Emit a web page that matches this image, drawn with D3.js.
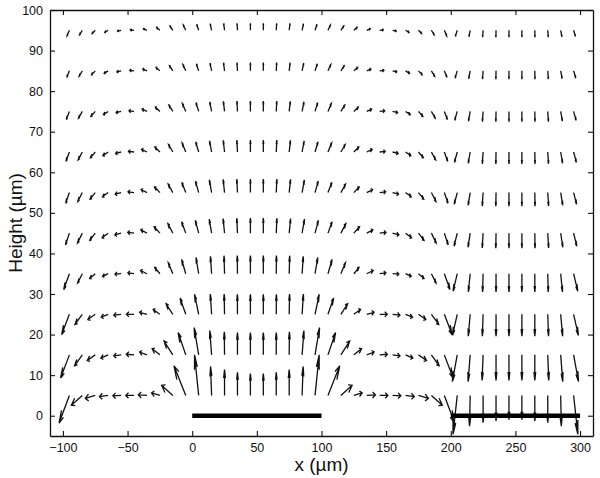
<!DOCTYPE html>
<html><head><meta charset="utf-8">
<script src="https://cdn.jsdelivr.net/npm/d3@7"></script>
<style>body{margin:0;background:#fff}svg{display:block}text{font-family:"Liberation Sans",Arial,Helvetica,sans-serif;fill:#111}</style>
</head><body>
<svg id="chart" width="600" height="478"></svg>
<script>
// grid positions (µm)
const xCols = [-95,-85,-75,-65,-55,-45,-35,-25,-15,-5,5,15,25,35,45,55,65,75,85,95,105,115,125,135,145,155,165,175,185,195,205,215,225,235,245,255,265,275,285,295];
const yRows = [95,85,75,65,55,45,35,25,15,5];
// drawn vector components (µm) per row
const u95 = [-1.76,-2.15,-2.49,-2.71,-2.83,-2.85,-2.78,-2.58,-2.21,-1.87,-1.51,-1.07,-0.64,-0.30,0, 0,0.30,0.64,1.07,1.51,1.87,2.21,2.58,2.78,2.85,2.83,2.71,2.49,2.15,1.76, -1.43,-0.97,-0.40,-0.10,0, 0,0.10,0.40,0.97,1.43];
const v95 = [-1.36,-1.13,-0.84,-0.53,-0.21,0.09,0.39,0.73,1.09,1.31,1.47,1.60,1.69,1.72,1.73, 1.73,1.72,1.69,1.60,1.47,1.31,1.09,0.73,0.39,0.09,-0.21,-0.53,-0.84,-1.13,-1.36, -1.50,-1.63,-1.71,-1.73,-1.73, -1.73,-1.73,-1.71,-1.63,-1.50];
const u85 = [-2.03,-2.49,-2.89,-3.14,-3.28,-3.30,-3.21,-2.99,-2.56,-2.16,-1.75,-1.24,-0.74,-0.35,0, 0,0.35,0.74,1.24,1.75,2.16,2.56,2.99,3.21,3.30,3.28,3.14,2.89,2.49,2.03, -1.65,-1.13,-0.46,-0.12,0, 0,0.12,0.46,1.13,1.65];
const v85 = [-1.62,-1.34,-0.99,-0.63,-0.25,0.11,0.46,0.87,1.29,1.55,1.74,1.90,2.00,2.04,2.05, 2.05,2.04,2.00,1.90,1.74,1.55,1.29,0.87,0.46,0.11,-0.25,-0.63,-0.99,-1.34,-1.62, -1.78,-1.93,-2.03,-2.05,-2.05, -2.05,-2.05,-2.03,-1.93,-1.78];
const u75 = [-2.40,-2.94,-3.41,-3.71,-3.87,-3.90,-3.80,-3.53,-3.03,-2.56,-2.07,-1.46,-0.88,-0.41,0, 0,0.41,0.88,1.46,2.07,2.56,3.03,3.53,3.80,3.90,3.87,3.71,3.41,2.94,2.40, -1.95,-1.33,-0.54,-0.14,0, 0,0.14,0.54,1.33,1.95];
const v75 = [-2.01,-1.67,-1.24,-0.79,-0.31,0.13,0.57,1.08,1.60,1.93,2.16,2.36,2.48,2.54,2.55, 2.55,2.54,2.48,2.36,2.16,1.93,1.60,1.08,0.57,0.13,-0.31,-0.79,-1.24,-1.67,-2.01, -2.21,-2.40,-2.52,-2.55,-2.55, -2.55,-2.55,-2.52,-2.40,-2.21];
const u65 = [-2.65,-3.25,-3.76,-4.09,-4.27,-4.30,-4.19,-3.90,-3.34,-2.82,-2.28,-1.61,-0.97,-0.45,0, 0,0.45,0.97,1.61,2.28,2.82,3.34,3.90,4.19,4.30,4.27,4.09,3.76,3.25,2.65, -2.15,-1.47,-0.60,-0.15,0, 0,0.15,0.60,1.47,2.15];
const v65 = [-2.32,-1.94,-1.43,-0.91,-0.36,0.15,0.66,1.25,1.86,2.23,2.50,2.73,2.87,2.94,2.95, 2.95,2.94,2.87,2.73,2.50,2.23,1.86,1.25,0.66,0.15,-0.36,-0.91,-1.43,-1.94,-2.32, -2.55,-2.77,-2.92,-2.95,-2.95, -2.95,-2.95,-2.92,-2.77,-2.55];
const u55 = [-2.86,-3.51,-4.07,-4.42,-4.62,-4.65,-4.53,-4.21,-3.61,-3.05,-2.46,-1.74,-1.05,-0.49,0, 0,0.49,1.05,1.74,2.46,3.05,3.61,4.21,4.53,4.65,4.62,4.42,4.07,3.51,2.86, -2.33,-1.59,-0.65,-0.16,0, 0,0.16,0.65,1.59,2.33];
const v55 = [-2.64,-2.20,-1.62,-1.04,-0.41,0.17,0.75,1.42,2.11,2.53,2.84,3.11,3.26,3.33,3.35, 3.35,3.33,3.26,3.11,2.84,2.53,2.11,1.42,0.75,0.17,-0.41,-1.04,-1.62,-2.20,-2.64, -2.90,-3.15,-3.32,-3.35,-3.35, -3.35,-3.35,-3.32,-3.15,-2.90];
const u45 = [-3.02,-3.70,-4.29,-4.66,-4.87,-4.90,-4.77,-4.44,-3.81,-3.21,-2.60,-1.84,-1.10,-0.51,0, 0,0.51,1.10,1.84,2.60,3.21,3.81,4.44,4.77,4.90,4.87,4.66,4.29,3.70,3.02, -2.45,-1.68,-0.68,-0.17,0, 0,0.17,0.68,1.68,2.45];
const v45 = [-2.92,-2.43,-1.79,-1.14,-0.45,0.19,0.83,1.57,2.33,2.79,3.14,3.43,3.60,3.68,3.70, 3.70,3.68,3.60,3.43,3.14,2.79,2.33,1.57,0.83,0.19,-0.45,-1.14,-1.79,-2.43,-2.92, -3.20,-3.48,-3.66,-3.70,-3.70, -3.70,-3.70,-3.66,-3.48,-3.20];
const u35 = [-4.4,-3.6,-4.3,-4.4,-4.8,-4.8,-5.0,-4.0,-3.5,-3.2,-2.1,-0.9,-0.4,-0.15,0, 0,0.15,0.4,0.9,2.1,3.2,3.5,4.0,5.0,4.8,4.8,4.4,4.3,3.6,4.4, -3.2,-1.4,-0.4,0,0, 0,0,0.4,1.4,3.2];
const v35 = [-3.9,-2.3,-1.2,-0.65,-0.1,0.2,0.8,1.55,2.7,3.5,4.0,4.3,4.4,4.45,4.45, 4.45,4.45,4.4,4.3,4.0,3.5,2.7,1.55,0.8,0.2,-0.1,-0.65,-1.2,-2.3,-3.9, -4.3,-4.5,-4.5,-4.5,-4.5, -4.5,-4.5,-4.5,-4.5,-4.3];
const u25 = [-6.0,-5.7,-5.7,-5.4,-5.7,-5.9,-5.7,-5.2,-5.2,-4.4,-3.2,-1.0,-0.3,-0.1,0, 0,0.1,0.3,1.0,3.2,4.4,5.2,5.2,5.7,5.9,5.7,5.4,5.7,5.7,6.0, -3.7,-1.5,-0.6,0,0, 0,0,0.6,1.5,3.7];
const v25 = [-5.0,-2.5,-1.3,-0.7,-0.2,0,0.5,1.2,2.6,4.0,4.9,5.0,5.0,4.9,4.9, 4.9,4.9,5.0,5.0,4.9,4.0,2.6,1.2,0.5,0,-0.2,-0.7,-1.3,-2.5,-5.0, -5.2,-5.4,-5.4,-5.4,-5.4, -5.4,-5.4,-5.4,-5.4,-5.2];
const u15 = [-6.8,-6.0,-6.2,-5.7,-5.7,-6.0,-5.7,-6.0,-6.8,-5.9,-3.5,-1.4,-0.2,0,0, 0,0,0.2,1.4,3.5,5.9,6.8,6.0,5.7,6.0,5.7,5.7,6.2,6.0,6.8, -3.8,-1.6,-0.8,0,0, 0,0,0.8,1.6,3.8];
const v15 = [-5.7,-2.7,-1.4,-0.8,-0.25,0.15,0.7,1.5,3.4,5.5,6.7,6.0,5.7,5.5,5.5, 5.5,5.5,5.7,6.0,6.7,5.5,3.4,1.5,0.7,0.15,-0.25,-0.8,-1.4,-2.7,-5.7, -6.6,-6.6,-6.3,-6.3,-6.3, -6.3,-6.3,-6.3,-6.6,-6.6];
const u5 = [-8.0,-8.5,-7.7,-6.8,-6.4,-6.4,-6.7,-6.5,-8.7,-9.1,-3.2,-0.8,0,0,0, 0,0,0,0.8,3.2,9.1,8.7,6.5,6.7,6.4,6.4,6.8,7.7,8.5,8.0, -3.3,-0.5,0,0,0, 0,0,0,0.5,3.3];
const v5 = [-6.8,-2.4,-0.75,-0.3,-0.1,0,0.15,0.6,2.5,7.3,10.0,7.1,6.4,5.7,5.4, 5.4,5.7,6.4,7.1,10.0,7.3,2.5,0.6,0.15,0,-0.1,-0.3,-0.75,-2.4,-6.8, -9.6,-7.6,-6.7,-6.3,-6.0, -6.0,-6.3,-6.7,-7.6,-9.6];
const uByRow = [u95,u85,u75,u65,u55,u45,u35,u25,u15,u5];
const vByRow = [v95,v85,v75,v65,v55,v45,v35,v25,v15,v5];
// electrodes (µm)
const electrodes = [[0,100],[200,300]];
const xTicks = [-100,-50,0,50,100,150,200,250,300];
const yTicks = [0,10,20,30,40,50,60,70,80,90,100];

const svg = d3.select("#chart");
const x = d3.scaleLinear().domain([-110,310]).range([50,593]);
const y = d3.scaleLinear().domain([-5,100]).range([436,10]);

const vectors = [];
yRows.forEach((yy,j)=>xCols.forEach((xx,i)=>vectors.push({x:xx,y:yy,u:uByRow[j][i],v:vByRow[j][i]})));

// quiver arrows (MATLAB-style heads in data units)
const a = 0.33, b = 0.33;
const path = d => {
  const tx = d.x+d.u, ty = d.y+d.v;
  const h1x = tx - a*(d.u + b*d.v), h1y = ty - a*(d.v - b*d.u);
  const h2x = tx - a*(d.u - b*d.v), h2y = ty - a*(d.v + b*d.u);
  return `M${x(d.x)},${y(d.y)}L${x(tx)},${y(ty)}M${x(h1x)},${y(h1y)}L${x(tx)},${y(ty)}L${x(h2x)},${y(h2y)}`;
};
svg.append("g").selectAll("path").data(vectors).join("path")
  .attr("d", path).attr("fill","none").attr("stroke","#111").attr("stroke-width",1.3)
  .attr("stroke-linejoin","miter");

// electrodes
svg.append("g").selectAll("line").data(electrodes).join("line")
  .attr("x1",d=>x(d[0])).attr("x2",d=>x(d[1])).attr("y1",y(0)).attr("y2",y(0))
  .attr("stroke","#000").attr("stroke-width",4.5);

// axes
const fs = "12.5px";
const gx = svg.append("g").attr("transform",`translate(0,${y.range()[0]})`)
  .call(d3.axisBottom(x).tickValues(xTicks).tickSizeInner(-5).tickSizeOuter(0).tickPadding(7));
const gy = svg.append("g").attr("transform",`translate(${x.range()[0]},0)`)
  .call(d3.axisLeft(y).tickValues(yTicks).tickSizeInner(-5).tickSizeOuter(0).tickPadding(7));
const gt = svg.append("g").attr("transform",`translate(0,${y.range()[1]})`)
  .call(d3.axisTop(x).tickValues(xTicks).tickSizeInner(-5).tickSizeOuter(0).tickFormat(""));
const gr = svg.append("g").attr("transform",`translate(${x.range()[1]},0)`)
  .call(d3.axisRight(y).tickValues(yTicks).tickSizeInner(-5).tickSizeOuter(0).tickFormat(""));
[gx,gy,gt,gr].forEach(g=>{
  g.selectAll("path.domain").attr("stroke","#111").attr("stroke-width",1.3);
  g.selectAll(".tick line").attr("stroke","#111").attr("stroke-width",1.1);
  g.selectAll("text").style("font-size",fs).style("font-family",'"Liberation Sans",Arial,sans-serif').attr("fill","#111");
});

svg.append("text").attr("x",(x.range()[0]+x.range()[1])/2).attr("y",471)
  .attr("text-anchor","middle").style("font-size","19px").text("x (µm)");
svg.append("text").attr("transform",`translate(22,${(y.range()[0]+y.range()[1])/2}) rotate(-90)`)
  .attr("text-anchor","middle").style("font-size","19px").text("Height (µm)");
</script>
</body></html>
